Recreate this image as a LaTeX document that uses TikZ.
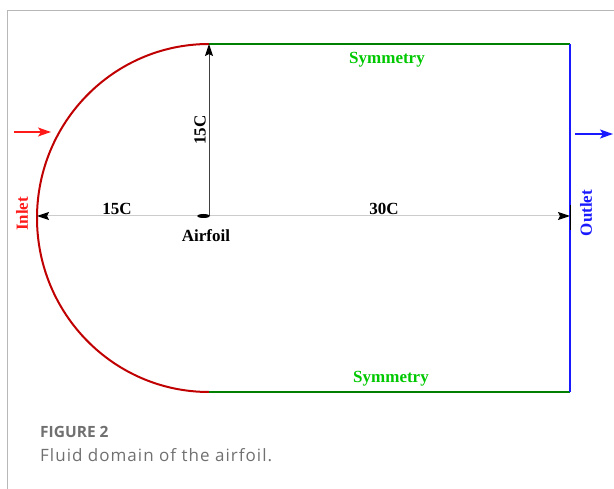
\documentclass[tikz,border=0pt]{standalone}
\usepackage{fontspec}
\setmainfont{Liberation Serif}
\newfontfamily\captionfont{Open Sans}
\newfontfamily\captionwide{Open Sans}[LetterSpace=6]
\usepackage{tikz}
\usetikzlibrary{arrows.meta,calc}
\usepackage{xcolor}
\definecolor{DomainRed}{HTML}{C00000}
\definecolor{FlowRed}{HTML}{FF1A1A}
\definecolor{WallGreen}{HTML}{008000}
\definecolor{TextGreen}{HTML}{00C800}
\definecolor{OutBlue}{HTML}{1A1AFF}
\definecolor{DimGray}{HTML}{CCCCCC}
\definecolor{FrameGray}{HTML}{B8B8B8}
\definecolor{CaptionGray}{HTML}{707070}

\begin{document}
\begin{tikzpicture}[x=1pt,y=-1pt,>=Stealth,font=\fontsize{17}{19}\selectfont\bfseries,
  dimline/.style={DimGray,line width=1pt},
  tip/.style={-{Stealth[black,length=12pt,width=8pt,inset=2pt]}},
  flow/.style={-{Stealth[length=13pt,width=9pt,inset=3pt]},line width=1.6pt}]
  \useasboundingbox (0,0) rectangle (614,489);
  % frame of the figure panel
  \draw[FrameGray,line width=1.5pt] (7.5,489)--(7.5,10.5)--(614,10.5);
  % domain
  \coordinate (O) at (209,216);
  \coordinate (TL) at (209,44);
  \coordinate (BL) at (209,392);
  \coordinate (TR) at (570,44);
  \coordinate (BR) at (570,392);
  \coordinate (W) at (37,216);
  \coordinate (E) at (570,216);
  \draw[DomainRed,line width=2pt] (TL) arc[start angle=90,end angle=270,x radius=172pt,y radius=174pt];
  \draw[WallGreen,line width=2pt] (TL)--(TR);
  \draw[WallGreen,line width=2pt] (BL)--(BR);
  \draw[OutBlue,line width=2.5pt] (TR)--(BR);
  % dimensions
  \draw[dimline,tip] (O)--(W);
  \draw[dimline,tip] (O)--(E);
  \draw[black,line width=1pt] (570,205)--(570,230);
  \draw[black!75,line width=1pt,tip] (O)--(TL);
  \fill[black] (203.5,216) ellipse (6.5pt and 2pt);
  % flow arrows
  \draw[flow,FlowRed] (14,132)--(51,132);
  \draw[flow,OutBlue] (575,134)--(613,134);
  % labels
  \node (sym1) at (387,60) [TextGreen] {Symmetry};
  \node (sym2) at (391,379) [TextGreen] {Symmetry};
  \node (d1) at (117,209) {15C};
  \node (d2) at (384,209) {30C};
  \node (d3) at (200,130) [rotate=90] {15C};
  \node (foil) at (206,236) {Airfoil};
  \node (inlet) at (22,214) [rotate=90,FlowRed] {Inlet};
  \node (outlet) at (586,213) [rotate=90,OutBlue] {Outlet};
  % caption
  \node (fig) at (40,432) [anchor=west,inner sep=0pt,CaptionGray,font=\captionfont\fontsize{15.5}{18}\selectfont\bfseries] {FIGURE 2};
  \node (cap) at (40,455) [anchor=west,inner sep=0pt,CaptionGray,font=\captionwide\fontsize{17}{19}\selectfont] {Fluid domain of the airfoil.};
\end{tikzpicture}
\end{document}
